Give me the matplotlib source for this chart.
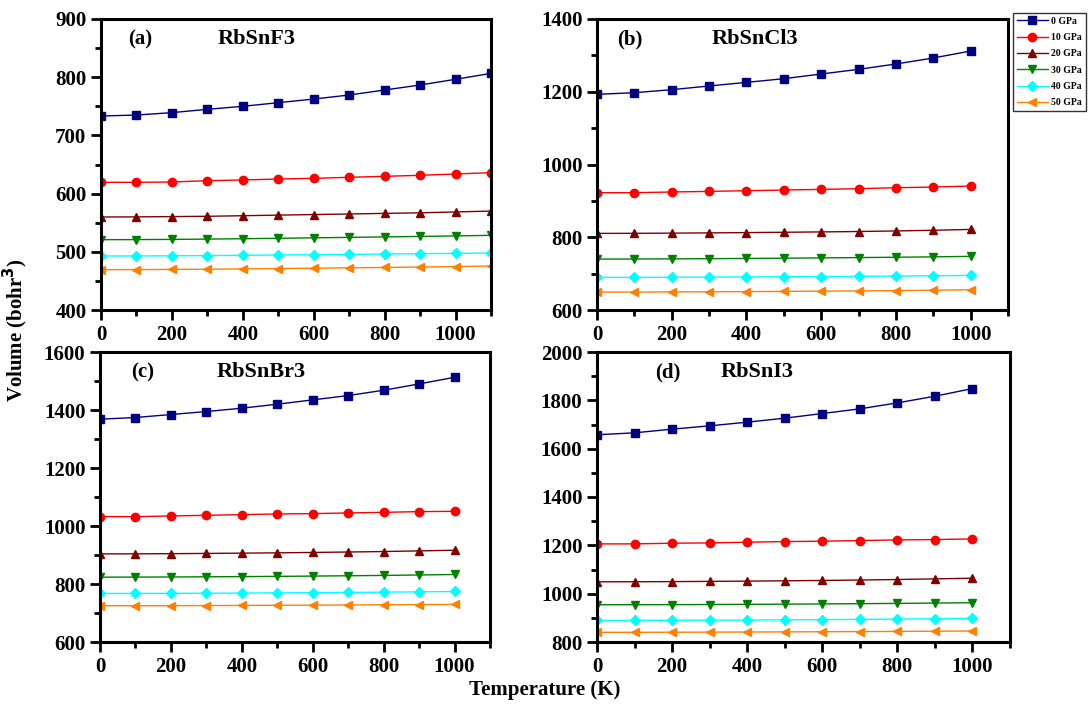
import matplotlib
matplotlib.use('Agg')
import matplotlib.pyplot as plt
from matplotlib.ticker import MultipleLocator

plt.rcParams['font.family'] = ['Liberation Serif', 'DejaVu Serif']
plt.rcParams['font.weight'] = 'bold'

pressures = ['0 GPa', '10 GPa', '20 GPa', '30 GPa', '40 GPa', '50 GPa']
colors = ['#000080', '#ff0000', '#800000', '#008000', '#00ffff', '#ff8000']
markers = ['s', 'o', '^', 'v', 'D', '<']

temp_f = [0, 100, 200, 300, 400, 500, 600, 700, 800, 900, 1000, 1100]
temp = [0, 100, 200, 300, 400, 500, 600, 700, 800, 900, 1000]

# volume (bohr^3) vs temperature, one list per pressure
rbsnf3 = [
    [733.3, 735.0, 739.1, 744.8, 750.0, 756.2, 762.5, 769.4, 778.0, 786.6, 796.4, 806.6],
    [619.4, 619.4, 619.9, 622.2, 623.4, 625.1, 626.2, 628.0, 629.7, 631.4, 633.7, 636.0],
    [559.8, 560.0, 560.5, 561.0, 562.0, 563.0, 564.0, 565.0, 566.0, 567.0, 568.5, 570.0],
    [520.8, 521.0, 521.3, 521.8, 522.5, 523.2, 524.0, 524.8, 525.6, 526.4, 527.3, 528.3],
    [492.8, 492.9, 493.1, 493.5, 494.0, 494.5, 495.0, 495.6, 496.2, 496.8, 497.3, 497.9],
    [469.3, 469.4, 469.7, 470.1, 470.6, 471.2, 471.8, 472.4, 473.1, 473.8, 474.6, 475.6],
]
rbsncl3 = [
    [1192.9, 1197.4, 1205.7, 1215.8, 1225.8, 1235.9, 1248.8, 1261.6, 1276.3, 1292.8, 1312.0],
    [922.5, 922.5, 924.4, 926.1, 928.0, 929.8, 931.6, 933.5, 936.2, 938.0, 940.8],
    [810.6, 810.8, 811.3, 812.0, 812.8, 813.7, 814.7, 815.8, 817.3, 819.2, 821.5],
    [740.0, 740.2, 740.6, 741.1, 741.7, 742.4, 743.2, 744.1, 745.0, 746.1, 747.4],
    [689.6, 689.7, 690.0, 690.4, 690.9, 691.4, 692.0, 692.6, 693.3, 694.2, 695.1],
    [649.3, 649.4, 649.7, 650.1, 650.6, 651.2, 651.8, 652.5, 653.3, 654.4, 655.7],
]
rbsnbr3 = [
    [1368.3, 1374.1, 1384.4, 1394.7, 1406.2, 1420.0, 1434.9, 1449.8, 1468.1, 1489.9, 1512.8],
    [1032.3, 1032.3, 1034.6, 1036.9, 1039.2, 1041.5, 1042.7, 1045.0, 1047.2, 1049.5, 1050.7],
    [903.9, 904.0, 904.6, 905.4, 906.4, 907.5, 908.8, 910.3, 912.0, 914.1, 916.5],
    [823.6, 823.8, 824.2, 824.8, 825.5, 826.3, 827.3, 828.4, 829.6, 831.1, 832.8],
    [767.4, 767.5, 767.8, 768.2, 768.8, 769.4, 770.1, 770.9, 771.9, 773.0, 774.3],
    [725.0, 725.1, 725.3, 725.7, 726.1, 726.6, 727.1, 727.7, 728.4, 729.0, 729.6],
]
rbsni3 = [
    [1657.4, 1665.6, 1680.7, 1694.5, 1709.6, 1726.2, 1745.4, 1764.7, 1789.5, 1817.0, 1848.6],
    [1206.0, 1206.0, 1208.7, 1210.1, 1212.9, 1215.6, 1217.0, 1219.8, 1222.5, 1223.9, 1226.6],
    [1049.1, 1049.3, 1049.9, 1050.8, 1051.9, 1053.2, 1054.7, 1056.5, 1058.6, 1061.2, 1064.0],
    [954.2, 954.3, 954.6, 955.1, 955.8, 956.6, 957.5, 958.6, 959.8, 961.1, 962.6],
    [889.5, 889.6, 889.9, 890.4, 891.0, 891.7, 892.6, 893.6, 894.9, 896.2, 897.8],
    [840.0, 840.1, 840.4, 840.8, 841.3, 841.9, 842.5, 843.1, 843.9, 844.7, 845.5],
]

W, H = 1090, 708
fig = plt.figure(figsize=(W / 100, H / 100), dpi=100)


def px_axes(left, top, right, bottom):
    return fig.add_axes([left / W, 1 - bottom / H, (right - left) / W, (bottom - top) / H])


panels = [
    (px_axes(101, 19, 491, 310), temp_f, rbsnf3, (400, 900), 100, 50, '(a)', 'RbSnF3', 0.07, 0.30),
    (px_axes(597, 19, 1008, 310), temp, rbsncl3, (600, 1400), 200, 100, '(b)', 'RbSnCl3', 0.05, 0.28),
    (px_axes(100, 352, 490, 642), temp, rbsnbr3, (600, 1600), 200, 100, '(c)', 'RbSnBr3', 0.08, 0.30),
    (px_axes(597, 352, 1010, 642), temp, rbsni3, (800, 2000), 200, 100, '(d)', 'RbSnI3', 0.14, 0.30),
]

for ax, t, data, ylim, ymaj, ymin, tag, name, tx, nx in panels:
    for i, vals in enumerate(data):
        ax.plot(t, vals, color=colors[i], marker=markers[i], markersize=6 if markers[i] != 'D' else 5,
                linewidth=1.0, label=pressures[i])
    ax.set_xlim(0, 1100)
    ax.set_ylim(*ylim)
    ax.xaxis.set_major_locator(MultipleLocator(200))
    ax.xaxis.set_minor_locator(MultipleLocator(100))
    ax.yaxis.set_major_locator(MultipleLocator(ymaj))
    ax.yaxis.set_minor_locator(MultipleLocator(ymin))
    ax.set_xticks(range(0, 1001, 200))
    ax.tick_params(which='major', direction='out', length=7, width=2, labelsize=15)
    ax.tick_params(which='minor', direction='out', length=4, width=2)
    for lab in ax.get_xticklabels() + ax.get_yticklabels():
        lab.set_fontweight('bold')
    for s in ax.spines.values():
        s.set_linewidth(2.2)
    ax.text(tx, 0.93, tag, transform=ax.transAxes, fontsize=15, fontweight='bold', va='center')
    ax.text(nx, 0.93, name, transform=ax.transAxes, fontsize=16, fontweight='bold', va='center')

fig.text(15 / W, 1 - 330 / H, 'Volume (bohr$^\\mathbf{3}$)', rotation=90, fontsize=15,
         fontweight='bold', ha='center', va='center')
fig.text(545 / W, 1 - 690 / H, 'Temperature (K)', fontsize=15, fontweight='bold',
         ha='center', va='center')

handles, labels = panels[0][0].get_legend_handles_labels()
leg = fig.legend(handles, labels, loc='upper left', bbox_to_anchor=(1013 / W, 1 - 13 / H),
                 prop={'size': 7, 'weight': 'bold'}, frameon=True, fancybox=False,
                 edgecolor='black', handlelength=3.2, labelspacing=0.75, borderpad=0.4,
                 handletextpad=0.3, borderaxespad=0.0, markerscale=1.0)
leg.get_frame().set_linewidth(1.0)

fig.savefig('out.png', dpi=100)
